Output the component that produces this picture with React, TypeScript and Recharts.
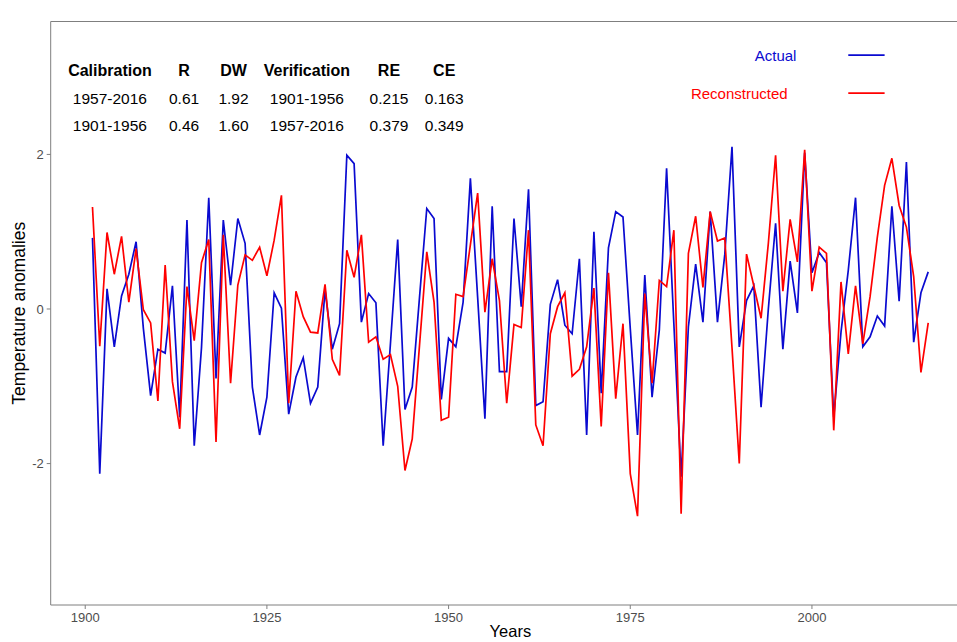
import React from 'react';
import { LineChart, Line, XAxis, YAxis, ReferenceLine, ReferenceDot } from 'recharts';

// Observed (actual) and reconstructed temperature anomalies, 1901-2016
const years: number[] = Array.from({ length: 116 }, (_, i) => 1901 + i);

const actual: number[] = [
  0.92, -2.13, 0.26, -0.49, 0.17, 0.45, 0.87, -0.25, -1.12, -0.52,
  -0.57, 0.30, -1.40, 1.15, -1.77, -0.50, 1.44, -0.90, 1.15, 0.31,
  1.17, 0.85, -1.01, -1.63, -1.14, 0.21, 0.01, -1.36, -0.88, -0.63,
  -1.22, -1.01, 0.25, -0.52, -0.19, 1.99, 1.88, -0.17, 0.20, 0.08,
  -1.77, -0.45, 0.90, -1.30, -1.01, 0.15, 1.30, 1.17, -1.17, -0.38,
  -0.49, 0.09, 1.69, 0.15, -1.42, 1.33, -0.81, -0.81, 1.17, 0.03,
  1.55, -1.25, -1.20, 0.06, 0.38, -0.21, -0.32, 0.65, -1.63, 1.00,
  -1.09, 0.79, 1.26, 1.19, -0.25, -1.63, 0.44, -1.14, -0.27, 1.82,
  -0.19, -2.17, -0.23, 0.58, -0.17, 1.26, -0.17, 0.70, 2.10, -0.49,
  0.11, 0.30, -1.27, 0.00, 1.11, -0.52, 0.62, -0.05, 2.02, 0.47,
  0.73, 0.60, -1.40, -0.30, 0.50, 1.44, -0.49, -0.36, -0.09, -0.22,
  1.33, 0.10, 1.90, -0.43, 0.21, 0.48,
];

const reconstructed: number[] = [
  1.32, -0.48, 0.99, 0.45, 0.94, 0.09, 0.78, -0.01, -0.18, -1.19,
  0.57, -0.94, -1.55, 0.29, -0.41, 0.60, 0.90, -1.72, 0.96, -0.96,
  0.31, 0.70, 0.63, 0.80, 0.43, 0.89, 1.47, -1.22, 0.23, -0.10,
  -0.30, -0.31, 0.32, -0.65, -0.86, 0.76, 0.41, 0.96, -0.43, -0.36,
  -0.65, -0.59, -1.00, -2.09, -1.68, -0.47, 0.74, 0.09, -1.44, -1.40,
  0.19, 0.16, 0.83, 1.50, -0.04, 0.65, 0.11, -1.22, -0.20, -0.24,
  1.02, -1.50, -1.77, -0.32, 0.03, 0.21, -0.87, -0.78, -0.49, 0.27,
  -1.52, 0.47, -1.16, -0.19, -2.13, -2.68, 0.20, -0.96, 0.37, 0.29,
  1.02, -2.65, 0.72, 1.20, 0.28, 1.26, 0.88, 0.92, -0.50, -2.00,
  0.71, 0.30, -0.12, 0.85, 1.99, 0.23, 1.16, 0.61, 2.06, 0.23,
  0.80, 0.72, -1.57, 0.35, -0.58, 0.30, -0.45, 0.16, 0.93, 1.60,
  1.95, 1.34, 1.06, 0.42, -0.82, -0.18,
];

const xTicks: number[] = [1900, 1925, 1950, 1975, 2000];
const yTicks: number[] = [-2, 0, 2];

// Statistics table drawn inside the panel
const tableHeader: string[] = ['Calibration', 'R', 'DW', 'Verification', 'RE', 'CE'];
const tableRows: string[][] = [
  ['1957-2016', '0.61', '1.92', '1901-1956', '0.215', '0.163'],
  ['1901-1956', '0.46', '1.60', '1957-2016', '0.379', '0.349'],
];
// column centres (in years) and row centres (in anomaly units)
const tableColX: number[] = [1903.4, 1913.6, 1920.4, 1930.5, 1941.8, 1949.4];
const tableRowY: number[] = [3.09, 2.73, 2.37];

// Hand-drawn key
const keyLabels: string[] = ['Actual', 'Reconstructed'];
const keyLabelX: number[] = [1995, 1990];
const keyY: number[] = [3.285, 2.794];
const keySegment: number[] = [2005, 2010];

const BLUE = '#0a0ad0';
const RED = '#ff0000';
const keyColors = [BLUE, RED];

const X_DOMAIN: [number, number] = [1895.25, 2021.75];
const Y_DOMAIN: [number, number] = [-3.83, 3.72];

const data = years.map((year, i) => ({
  year,
  actual: actual[i],
  reconstructed: reconstructed[i],
}));

const FONT = '"Liberation Sans", Arial, sans-serif';

const makeText = (text: string, color: string, size: number, bold: boolean) =>
  (props: any) => {
    const vb = props.viewBox || {};
    const cx = (vb.x ?? 0) + (vb.width ?? 0) / 2;
    const cy = (vb.y ?? 0) + (vb.height ?? 0) / 2;
    return (
      <text
        x={cx}
        y={cy}
        textAnchor="middle"
        dominantBaseline="central"
        fill={color}
        fontSize={size}
        fontWeight={bold ? 'bold' : 'normal'}
        fontFamily={FONT}
      >
        {text}
      </text>
    );
  };

export default function App() {
  return (
    <div
      style={{
        position: 'absolute',
        left: 0,
        top: 0,
        width: 957,
        height: 642,
        overflow: 'hidden',
        background: '#ffffff',
        fontFamily: FONT,
      }}
    >
      <LineChart
        width={970}
        height={642}
        data={data}
        margin={{ top: 21.5, right: 0, bottom: 0, left: 0 }}
      >
        <XAxis
          dataKey="year"
          type="number"
          domain={X_DOMAIN}
          ticks={xTicks}
          allowDataOverflow
          height={37}
          tickSize={4}
          tickMargin={4}
          stroke="#7f7f7f"
          tick={{ fill: '#4d4d4d', fontSize: 13 }}
          label={{ value: 'Years', position: 'insideBottom', offset: 5, fill: '#000', fontSize: 16.5 }}
        />
        <YAxis
          type="number"
          domain={Y_DOMAIN}
          ticks={yTicks}
          allowDataOverflow
          width={50.7}
          tickSize={4}
          tickMargin={3}
          stroke="#7f7f7f"
          tick={{ fill: '#4d4d4d', fontSize: 13 }}
          label={{ value: 'Temperature anomalies', angle: -90, position: 'center', dx: -7, fill: '#000', fontSize: 17.5 }}
        />
        <ReferenceLine y={Y_DOMAIN[1]} stroke="#7f7f7f" strokeWidth={1} ifOverflow="extendDomain" />
        <Line
          type="linear"
          dataKey="actual"
          stroke={BLUE}
          strokeWidth={1.7}
          dot={false}
          isAnimationActive={false}
        />
        <Line
          type="linear"
          dataKey="reconstructed"
          stroke={RED}
          strokeWidth={1.7}
          dot={false}
          isAnimationActive={false}
        />
        {tableHeader.map((t, c) => (
          <ReferenceDot
            key={`h-${c}`}
            x={tableColX[c]}
            y={tableRowY[0]}
            r={0}
            fill="none"
            stroke="none"
            label={makeText(t, '#000', 16, true)}
          />
        ))}
        {tableRows.map((row, r) =>
          row.map((t, c) => (
            <ReferenceDot
              key={`r-${r}-${c}`}
              x={tableColX[c]}
              y={tableRowY[r + 1]}
              r={0}
              fill="none"
              stroke="none"
              label={makeText(t, '#000', 15.5, false)}
            />
          ))
        )}
        {keyLabels.map((t, i) => (
          <ReferenceDot
            key={`k-${i}`}
            x={keyLabelX[i]}
            y={keyY[i]}
            r={0}
            fill="none"
            stroke="none"
            label={makeText(t, keyColors[i], 15, false)}
          />
        ))}
        {keyLabels.map((t, i) => (
          <ReferenceLine
            key={`ks-${i}`}
            segment={[
              { x: keySegment[0], y: keyY[i] },
              { x: keySegment[1], y: keyY[i] },
            ]}
            stroke={keyColors[i]}
            strokeWidth={1.7}
          />
        ))}
      </LineChart>
    </div>
  );
}
